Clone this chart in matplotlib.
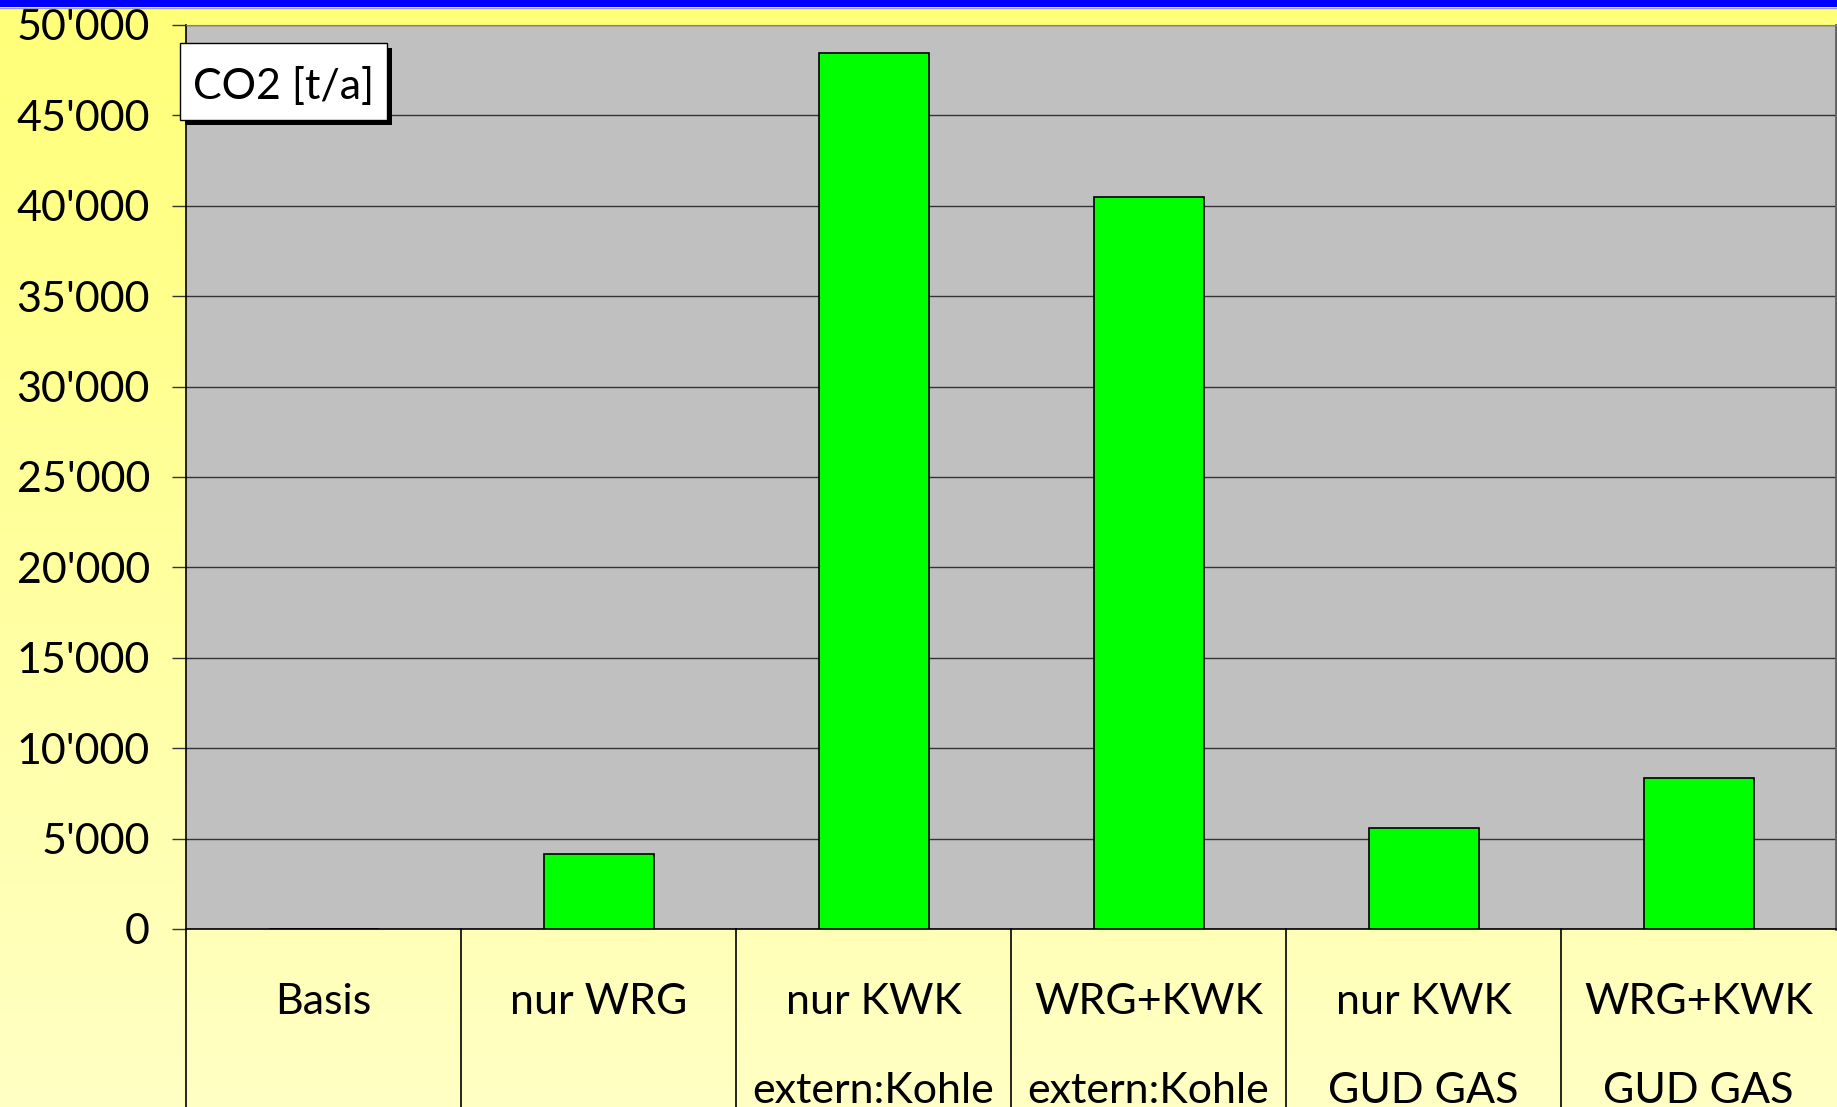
import numpy as np
import matplotlib
matplotlib.use('Agg')
import matplotlib.pyplot as plt
from matplotlib.patches import Rectangle
from matplotlib.ticker import FuncFormatter

plt.rcParams['font.family'] = ['Lato', 'DejaVu Sans']

# data
labels_top = ['Basis', 'nur WRG', 'nur KWK', 'WRG+KWK', 'nur KWK', 'WRG+KWK']
labels_bot = ['', '', 'extern:Kohle', 'extern:Kohle', 'GUD GAS', 'GUD GAS']
co2 = [0, 4150, 48450, 40500, 5600, 8350]
yticks = list(range(0, 50001, 5000))

W, H = 1837, 1107
fig = plt.figure(figsize=(W / 100, H / 100), dpi=100)

# yellow gradient background
bg = fig.add_axes([0, 0, 1, 1], zorder=-5)
top = np.array([1.0, 1.0, 0.47])
bot = np.array([1.0, 1.0, 0.77])
t = np.linspace(0, 1, 256)[:, None]
grad = top[None, :] * (1 - t) + bot[None, :] * t
bg.imshow(grad[:, None, :], aspect='auto', extent=[0, 1, 0, 1])
bg.set_xlim(0, 1)
bg.set_ylim(0, 1)
bg.axis('off')

# blue stripe at the top
fig.patches.append(Rectangle((0, 1 - 7 / H), 1, 7 / H, transform=fig.transFigure,
                             fc='#0000ff', ec='none', zorder=5))
fig.lines.append(plt.Line2D([0, 1], [1 - 8 / H, 1 - 8 / H], transform=fig.transFigure,
                            color='#a0a0a0', lw=1))

x0, x1, ytop, yzero = 186, 1836, 25, 929
ax = fig.add_axes([x0 / W, (H - yzero) / H, (x1 - x0) / W, (yzero - ytop) / H])
ax.set_facecolor('#c0c0c0')

x = np.arange(len(co2))
ax.bar(x, co2, width=0.4, color='#00ff00', edgecolor='black', linewidth=1.2, zorder=3)

ax.set_xlim(-0.5, len(co2) - 0.5)
ax.set_ylim(0, 50000)
ax.set_yticks(yticks)
ax.yaxis.set_major_formatter(FuncFormatter(lambda v, p: '{:,}'.format(int(v)).replace(',', "'")))
ax.yaxis.grid(True, color='#333333', lw=1)
ax.set_axisbelow(True)
ax.tick_params(axis='y', direction='out', length=10, width=1, color='#333333',
               labelsize=31, pad=16)
ax.set_xticks([])

for s in ['left', 'bottom']:
    ax.spines[s].set_color('black')
    ax.spines[s].set_linewidth(1.2)
ax.spines['top'].set_color('#808080')
ax.spines['right'].set_color('#606060')
ax.spines['right'].set_linewidth(2)

# category labels with separators underneath
tr = ax.get_xaxis_transform()
for i in range(len(co2)):
    ax.plot([i - 0.5, i - 0.5], [0, -0.3], transform=tr, color='black', lw=1.2, clip_on=False)
    ax.text(i, -0.0805, labels_top[i], transform=tr, ha='center', va='center', fontsize=31)
    if labels_bot[i]:
        ax.text(i, -0.179, labels_bot[i], transform=tr, ha='center', va='center', fontsize=31)

# CO2 [t/a] label box with drop shadow
bx0, by0, bx1, by1 = 180, 43, 387, 120
fig.patches.append(Rectangle((bx0 / W + 5 / W, 1 - by1 / H - 5 / H), (bx1 - bx0) / W, (by1 - by0) / H,
                             transform=fig.transFigure, fc='black', ec='none', zorder=6))
fig.patches.append(Rectangle((bx0 / W, 1 - by1 / H), (bx1 - bx0) / W, (by1 - by0) / H,
                             transform=fig.transFigure, fc='white', ec='black', lw=1, zorder=7))
fig.text((bx0 + bx1) / 2 / W, 1 - ((by0 + by1) / 2 + 5) / H, 'CO2 [t/a]', ha='center', va='center',
         fontsize=31, zorder=8)

fig.savefig('out.png', dpi=100)
